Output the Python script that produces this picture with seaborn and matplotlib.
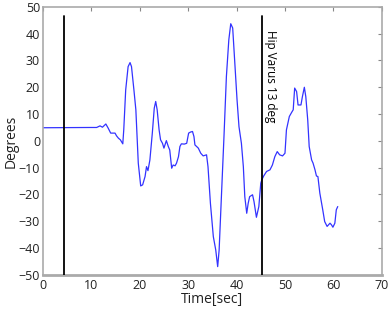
import numpy as np
import pandas as pd
import seaborn as sns
import matplotlib
matplotlib.use("Agg")
import matplotlib.pyplot as plt

time_sec = [0.0, 9.7, 11.1, 11.8, 12.3, 13.0, 13.5, 14.0, 14.9, 15.2, 15.6, 16.0, 16.5,
            16.7, 17.1, 17.6, 18.0, 18.3, 18.8, 19.2, 19.7, 20.2, 20.6, 21.1, 21.4, 21.7,
            22.1, 22.6, 23.0, 23.3, 23.6, 24.0, 24.3, 24.7, 25.0, 25.5, 25.9, 26.2, 26.6,
            26.9, 27.3, 27.6, 28.0, 28.3, 28.6, 29.2, 29.7, 30.1, 30.5, 30.9, 31.2, 31.4,
            32.1, 32.6, 33.1, 33.8, 34.1, 34.6, 35.2, 35.7, 36.1, 36.4, 36.9, 37.4, 37.9,
            38.4, 38.8, 39.2, 39.6, 40.1, 40.5, 41.0, 41.4, 41.7, 42.1, 42.4, 42.7, 43.3,
            43.6, 44.1, 44.6, 45.0, 45.2, 45.6, 46.2, 46.9, 47.4, 47.9, 48.4, 48.9, 49.5,
            50.0, 50.3, 50.9, 51.4, 51.7, 52.0, 52.4, 52.7, 53.3, 53.6, 54.0, 54.3, 54.7,
            55.0, 55.5, 55.8, 56.2, 56.5, 56.8, 57.2, 57.8, 58.2, 58.7, 59.3, 59.6, 59.9,
            60.3, 60.6, 60.9]
degrees = [4.9, 5.0, 5.0, 5.6, 5.1, 6.3, 4.7, 2.9, 2.9, 1.9, 1.0, 0.4, -1.1,
           4.1, 19.0, 27.7, 29.2, 27.7, 19.0, 11.6, -8.3, -16.8, -16.4, -13.3, -9.6, -11.1,
           -7.1, 2.9, 12.2, 14.7, 11.6, 4.1, 0.4, -0.9, -2.7, 0.1, -2.1, -3.4, -10.2,
           -9.0, -9.3, -8.3, -5.9, -2.1, -1.1, -1.2, -0.9, 2.9, 3.3, 3.5, 1.6, -1.5,
           -2.7, -4.6, -5.6, -5.2, -9.6, -23.3, -35.7, -40.7, -46.9, -40.7, -19.5, 1.6, 24.0,
           37.7, 43.7, 42.1, 30.2, 15.3, 5.3, -0.9, -9.6, -20.8, -27.0, -23.3, -20.8, -20.1,
           -22.6, -28.5, -24.5, -15.8, -14.6, -13.1, -11.4, -10.8, -9.0, -5.9, -4.0, -5.2, -5.6,
           -4.6, 4.1, 9.1, 10.7, 11.6, 19.7, 18.4, 13.4, 13.4, 16.5, 20.0, 16.5, 7.8,
           -2.1, -7.1, -8.3, -10.8, -13.1, -13.3, -19.5, -25.7, -30.1, -31.9, -30.7, -31.3, -32.2,
           -30.7, -25.7, -24.5]
event_times = [4.3, 45.2]
event_top = 46.5
annotation = "Hip Varus 13 deg"
x_ticks = [0, 10, 20, 30, 40, 50, 60, 70]
y_ticks = [-50, -40, -30, -20, -10, 0, 10, 20, 30, 40, 50]

sns.set_style("white")
plt.rcParams['font.family'] = ['Open Sans', 'DejaVu Sans']

df = pd.DataFrame({"Time": time_sec, "Degrees": degrees})

fig = plt.figure(figsize=(3.9, 3.11), dpi=100)
ax = fig.add_axes([0.110, 0.116, 0.869, 0.862])
sns.lineplot(data=df, x="Time", y="Degrees", ax=ax, color="#3333ff", linewidth=0.9)

for t in event_times:
    ax.plot([t, t], [-50, event_top], color="black", linewidth=1.3, zorder=3)
ax.text(event_times[1] + 0.4, 41.5, annotation, rotation=270, ha="left", va="top",
        fontsize=8.5, color="black")

ax.set_xlim(0, 70)
ax.set_ylim(-50, 50)
ax.set_xticks(x_ticks)
ax.set_yticks(y_ticks)
ax.set_xlabel("Time[sec]", fontsize=10, labelpad=0, color="#222222")
ax.set_ylabel("Degrees", fontsize=10, labelpad=0, color="#222222")
ax.tick_params(direction="in", length=3, width=0.8, color="#888888", labelsize=9,
               labelcolor="#222222", top=True, right=True, pad=2)
ax.tick_params(axis="x", pad=3)
for s in ax.spines.values():
    s.set_color("#aaaaaa")
    s.set_linewidth(1.2)
ax.spines["bottom"].set_linewidth(2)

fig.savefig("out.png", dpi=100)
